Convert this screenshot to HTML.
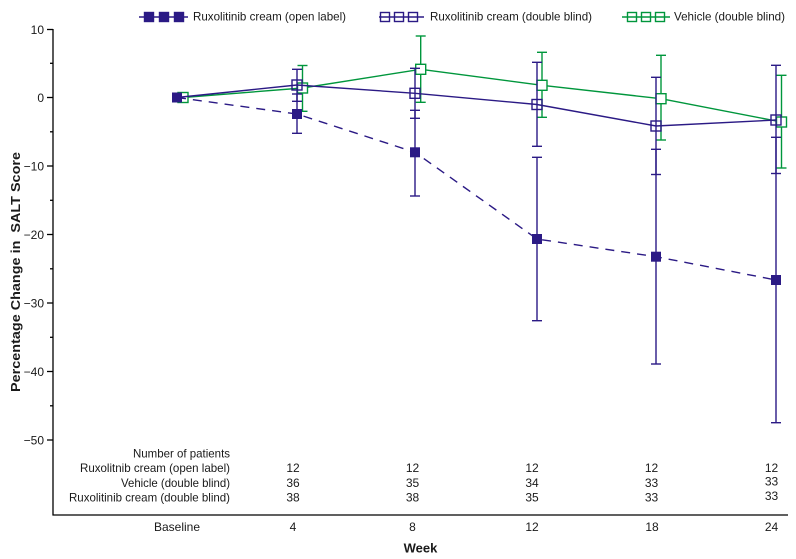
<!DOCTYPE html>
<html><head><meta charset="utf-8"><style>
html,body{margin:0;padding:0;background:#fff;}
svg{display:block;}
text{font-family:"Liberation Sans",Arial,sans-serif;fill:#1a1a1a;}
</style></head><body>
<svg width="796" height="559" viewBox="0 0 796 559" xmlns="http://www.w3.org/2000/svg">
<!-- Legend -->
<g stroke-width="1.4">
  <line x1="139" y1="17" x2="188" y2="17" stroke="#2b1a85"/>
  <rect x="144.5" y="12.5" width="9" height="9" fill="#2b1a85" stroke="#2b1a85"/>
  <rect x="159.5" y="12.5" width="9" height="9" fill="#2b1a85" stroke="#2b1a85"/>
  <rect x="174.5" y="12.5" width="9" height="9" fill="#2b1a85" stroke="#2b1a85"/>
  <line x1="379" y1="17" x2="424" y2="17" stroke="#2b1a85"/>
  <rect x="380.5" y="12.5" width="9" height="9" fill="none" stroke="#2b1a85"/>
  <rect x="394.5" y="12.5" width="9" height="9" fill="none" stroke="#2b1a85"/>
  <rect x="408.5" y="12.5" width="9" height="9" fill="none" stroke="#2b1a85"/>
  <line x1="622" y1="17" x2="670" y2="17" stroke="#00963c"/>
  <rect x="627.5" y="12.5" width="9" height="9" fill="none" stroke="#00963c"/>
  <rect x="641.5" y="12.5" width="9" height="9" fill="none" stroke="#00963c"/>
  <rect x="655.5" y="12.5" width="9" height="9" fill="none" stroke="#00963c"/>
</g>
<g font-size="12">
  <text x="193" y="20.5" textLength="153" lengthAdjust="spacingAndGlyphs">Ruxolitinib cream (open label)</text>
  <text x="430" y="20.5" textLength="162" lengthAdjust="spacingAndGlyphs">Ruxolitinib cream (double blind)</text>
  <text x="674" y="20.5" textLength="111" lengthAdjust="spacingAndGlyphs">Vehicle (double blind)</text>
</g>

<!-- Axes -->
<g stroke="#000" stroke-width="1.3" fill="none">
  <line x1="53" y1="29" x2="53" y2="515.5"/>
  <line x1="52.5" y1="515" x2="788" y2="515"/>
  <line x1="47" y1="29.5" x2="53" y2="29.5"/>
  <line x1="47" y1="97.5" x2="53" y2="97.5"/>
  <line x1="47" y1="166" x2="53" y2="166"/>
  <line x1="47" y1="234.5" x2="53" y2="234.5"/>
  <line x1="47" y1="303" x2="53" y2="303"/>
  <line x1="47" y1="371.5" x2="53" y2="371.5"/>
  <line x1="47" y1="440" x2="53" y2="440"/>
  <line x1="50" y1="63.3" x2="53" y2="63.3"/>
  <line x1="50" y1="131.8" x2="53" y2="131.8"/>
  <line x1="50" y1="200.3" x2="53" y2="200.3"/>
  <line x1="50" y1="268.8" x2="53" y2="268.8"/>
  <line x1="50" y1="337.3" x2="53" y2="337.3"/>
  <line x1="50" y1="405.8" x2="53" y2="405.8"/>
</g>
<g font-size="12" text-anchor="end">
  <text x="44" y="34">10</text>
  <text x="44" y="102">0</text>
  <text x="44" y="170.5">−10</text>
  <text x="44" y="239">−20</text>
  <text x="44" y="307.5">−30</text>
  <text x="44" y="376">−40</text>
  <text x="44" y="444.5">−50</text>
</g>
<text transform="translate(20,272) rotate(-90)" text-anchor="middle" font-size="12.5" font-weight="bold" textLength="240" lengthAdjust="spacingAndGlyphs" xml:space="preserve">Percentage Change in  SALT Score</text>

<!-- Vehicle (green) -->
<g stroke="#00963c" stroke-width="1.4" fill="none">
  <polyline points="183,97.5 302.5,88 420.7,69.3 542,85.3 661,98.7 781.5,122"/>
  <line x1="302.5" y1="65.5" x2="302.5" y2="111.3"/><line x1="297.5" y1="65.5" x2="307.5" y2="65.5"/><line x1="297.5" y1="111.3" x2="307.5" y2="111.3"/>
  <line x1="420.7" y1="36" x2="420.7" y2="102.3"/><line x1="415.7" y1="36" x2="425.7" y2="36"/><line x1="415.7" y1="102.3" x2="425.7" y2="102.3"/>
  <line x1="542" y1="52.3" x2="542" y2="117.3"/><line x1="537" y1="52.3" x2="547" y2="52.3"/><line x1="537" y1="117.3" x2="547" y2="117.3"/>
  <line x1="661" y1="55.3" x2="661" y2="140"/><line x1="656" y1="55.3" x2="666" y2="55.3"/><line x1="656" y1="140" x2="666" y2="140"/>
  <line x1="781.5" y1="75.3" x2="781.5" y2="168"/><line x1="776.5" y1="75.3" x2="786.5" y2="75.3"/><line x1="776.5" y1="168" x2="786.5" y2="168"/>
  <rect x="178" y="92.5" width="10" height="10" fill="#fff"/>
  <rect x="297.5" y="83" width="10" height="10" fill="#fff"/>
  <rect x="415.7" y="64.3" width="10" height="10" fill="#fff"/>
  <rect x="537" y="80.3" width="10" height="10" fill="#fff"/>
  <rect x="656" y="93.7" width="10" height="10" fill="#fff"/>
  <rect x="776.5" y="117" width="10" height="10" fill="#fff"/>
</g>

<!-- Ruxolitinib double blind (open navy) -->
<g stroke="#2b1a85" stroke-width="1.4" fill="none">
  <polyline points="177,97.5 297,85 415,93.3 537,104.5 656,126 776,120"/>
  <line x1="297" y1="69.3" x2="297" y2="101.3"/><line x1="292" y1="69.3" x2="302" y2="69.3"/><line x1="292" y1="101.3" x2="302" y2="101.3"/>
  <line x1="415" y1="68.3" x2="415" y2="118.3"/><line x1="410" y1="68.3" x2="420" y2="68.3"/><line x1="410" y1="118.3" x2="420" y2="118.3"/>
  <line x1="537" y1="62.3" x2="537" y2="146.3"/><line x1="532" y1="62.3" x2="542" y2="62.3"/><line x1="532" y1="146.3" x2="542" y2="146.3"/>
  <line x1="656" y1="77.3" x2="656" y2="174.5"/><line x1="651" y1="77.3" x2="661" y2="77.3"/><line x1="651" y1="174.5" x2="661" y2="174.5"/>
  <line x1="776" y1="65.3" x2="776" y2="173.5"/><line x1="771" y1="65.3" x2="781" y2="65.3"/><line x1="771" y1="173.5" x2="781" y2="173.5"/>
  <rect x="292" y="80" width="10" height="10"/>
  <rect x="410" y="88.3" width="10" height="10"/>
  <rect x="532" y="99.5" width="10" height="10"/>
  <rect x="651" y="121" width="10" height="10"/>
  <rect x="771" y="115" width="10" height="10"/>
</g>

<!-- Ruxolitinib open label (filled navy, dashed) -->
<g stroke="#2b1a85" stroke-width="1.4" fill="none">
  <polyline points="177,97.5 297,114 415,152.3 537,239 656,256.7 776,280" stroke-dasharray="9,7"/>
  <line x1="297" y1="94" x2="297" y2="133.3"/><line x1="292" y1="94" x2="302" y2="94"/><line x1="292" y1="133.3" x2="302" y2="133.3"/>
  <line x1="415" y1="110.3" x2="415" y2="196"/><line x1="410" y1="110.3" x2="420" y2="110.3"/><line x1="410" y1="196" x2="420" y2="196"/>
  <line x1="537" y1="157.3" x2="537" y2="320.7"/><line x1="532" y1="157.3" x2="542" y2="157.3"/><line x1="532" y1="320.7" x2="542" y2="320.7"/>
  <line x1="656" y1="149.3" x2="656" y2="364"/><line x1="651" y1="149.3" x2="661" y2="149.3"/><line x1="651" y1="364" x2="661" y2="364"/>
  <line x1="776" y1="137.3" x2="776" y2="422.7"/><line x1="771" y1="137.3" x2="781" y2="137.3"/><line x1="771" y1="422.7" x2="781" y2="422.7"/>
</g>
<g fill="#2b1a85">
  <rect x="172" y="92.5" width="10" height="10"/>
  <rect x="292" y="109" width="10" height="10"/>
  <rect x="410" y="147.3" width="10" height="10"/>
  <rect x="532" y="234" width="10" height="10"/>
  <rect x="651" y="251.7" width="10" height="10"/>
  <rect x="771" y="275" width="10" height="10"/>
</g>

<!-- Number of patients table -->
<g font-size="12" text-anchor="end">
  <text x="230" y="457.5" textLength="97" lengthAdjust="spacingAndGlyphs">Number of patients</text>
  <text x="230" y="472" textLength="150" lengthAdjust="spacingAndGlyphs">Ruxolitnib cream (open label)</text>
  <text x="230" y="487" textLength="109" lengthAdjust="spacingAndGlyphs">Vehicle (double blind)</text>
  <text x="230" y="501.5" textLength="161" lengthAdjust="spacingAndGlyphs">Ruxolitinib cream (double blind)</text>
</g>
<g font-size="12" text-anchor="middle">
  <text x="293" y="472">12</text><text x="293" y="487">36</text><text x="293" y="501.5">38</text>
  <text x="412.5" y="472">12</text><text x="412.5" y="487">35</text><text x="412.5" y="501.5">38</text>
  <text x="532" y="472">12</text><text x="532" y="487">34</text><text x="532" y="501.5">35</text>
  <text x="651.5" y="472">12</text><text x="651.5" y="487">33</text><text x="651.5" y="501.5">33</text>
  <text x="771.5" y="472">12</text><text x="771.5" y="485.3">33</text><text x="771.5" y="500">33</text>
</g>

<!-- X labels -->
<g font-size="12" text-anchor="middle">
  <text x="177" y="531">Baseline</text>
  <text x="293" y="531">4</text>
  <text x="412.5" y="531">8</text>
  <text x="532" y="531">12</text>
  <text x="652" y="531">18</text>
  <text x="771.5" y="531">24</text>
</g>
<text x="420.5" y="552.5" font-size="13" font-weight="bold" text-anchor="middle">Week</text>
</svg>
</body></html>
